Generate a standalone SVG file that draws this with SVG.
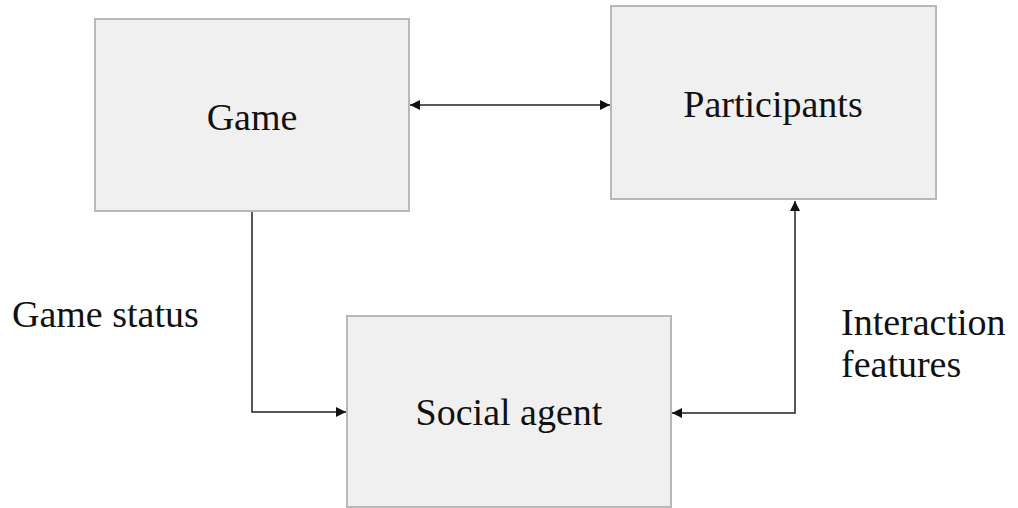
<svg xmlns="http://www.w3.org/2000/svg" width="1018" height="508" viewBox="0 0 1018 508">
<style>
.box{fill:#f0f0f0;stroke:#b8b8b8;stroke-width:2}
.lbl{font-family:"Liberation Serif",serif;font-size:38px;fill:#111}
.c{text-anchor:middle}
.ln{fill:none;stroke:#222;stroke-width:1.5}
</style>
<defs>
<marker id="ah" viewBox="0 0 10 10" refX="10" refY="5" markerWidth="10" markerHeight="10" markerUnits="userSpaceOnUse" orient="auto-start-reverse">
<path d="M0,0 L10,5 L0,10 Z" fill="#111"/>
</marker>
</defs>
<rect width="1018" height="508" fill="#fff"/>
<g id="game">
<rect class="box" x="95" y="19" width="314" height="192"/>
<text class="lbl c" x="252" y="130">Game</text>
</g>
<g id="participants">
<rect class="box" x="611" y="6" width="325" height="193"/>
<text class="lbl c" x="773" y="117">Participants</text>
</g>
<g id="social-agent">
<rect class="box" x="347" y="316" width="324" height="191"/>
<text class="lbl c" x="509" y="425">Social agent</text>
</g>
<g id="connectors">
<path class="ln" d="M410,105 L610,105" marker-start="url(#ah)" marker-end="url(#ah)"/>
<path class="ln" d="M252,212 L252,412 L346,412" marker-end="url(#ah)"/>
<path class="ln" d="M672,413 L795,413 L795,201" marker-start="url(#ah)" marker-end="url(#ah)"/>
</g>
<g id="labels">
<text class="lbl" x="12" y="327">Game status</text>
<text class="lbl" x="841" y="335">Interaction</text>
<text class="lbl" x="841" y="377">features</text>
</g>
</svg>
